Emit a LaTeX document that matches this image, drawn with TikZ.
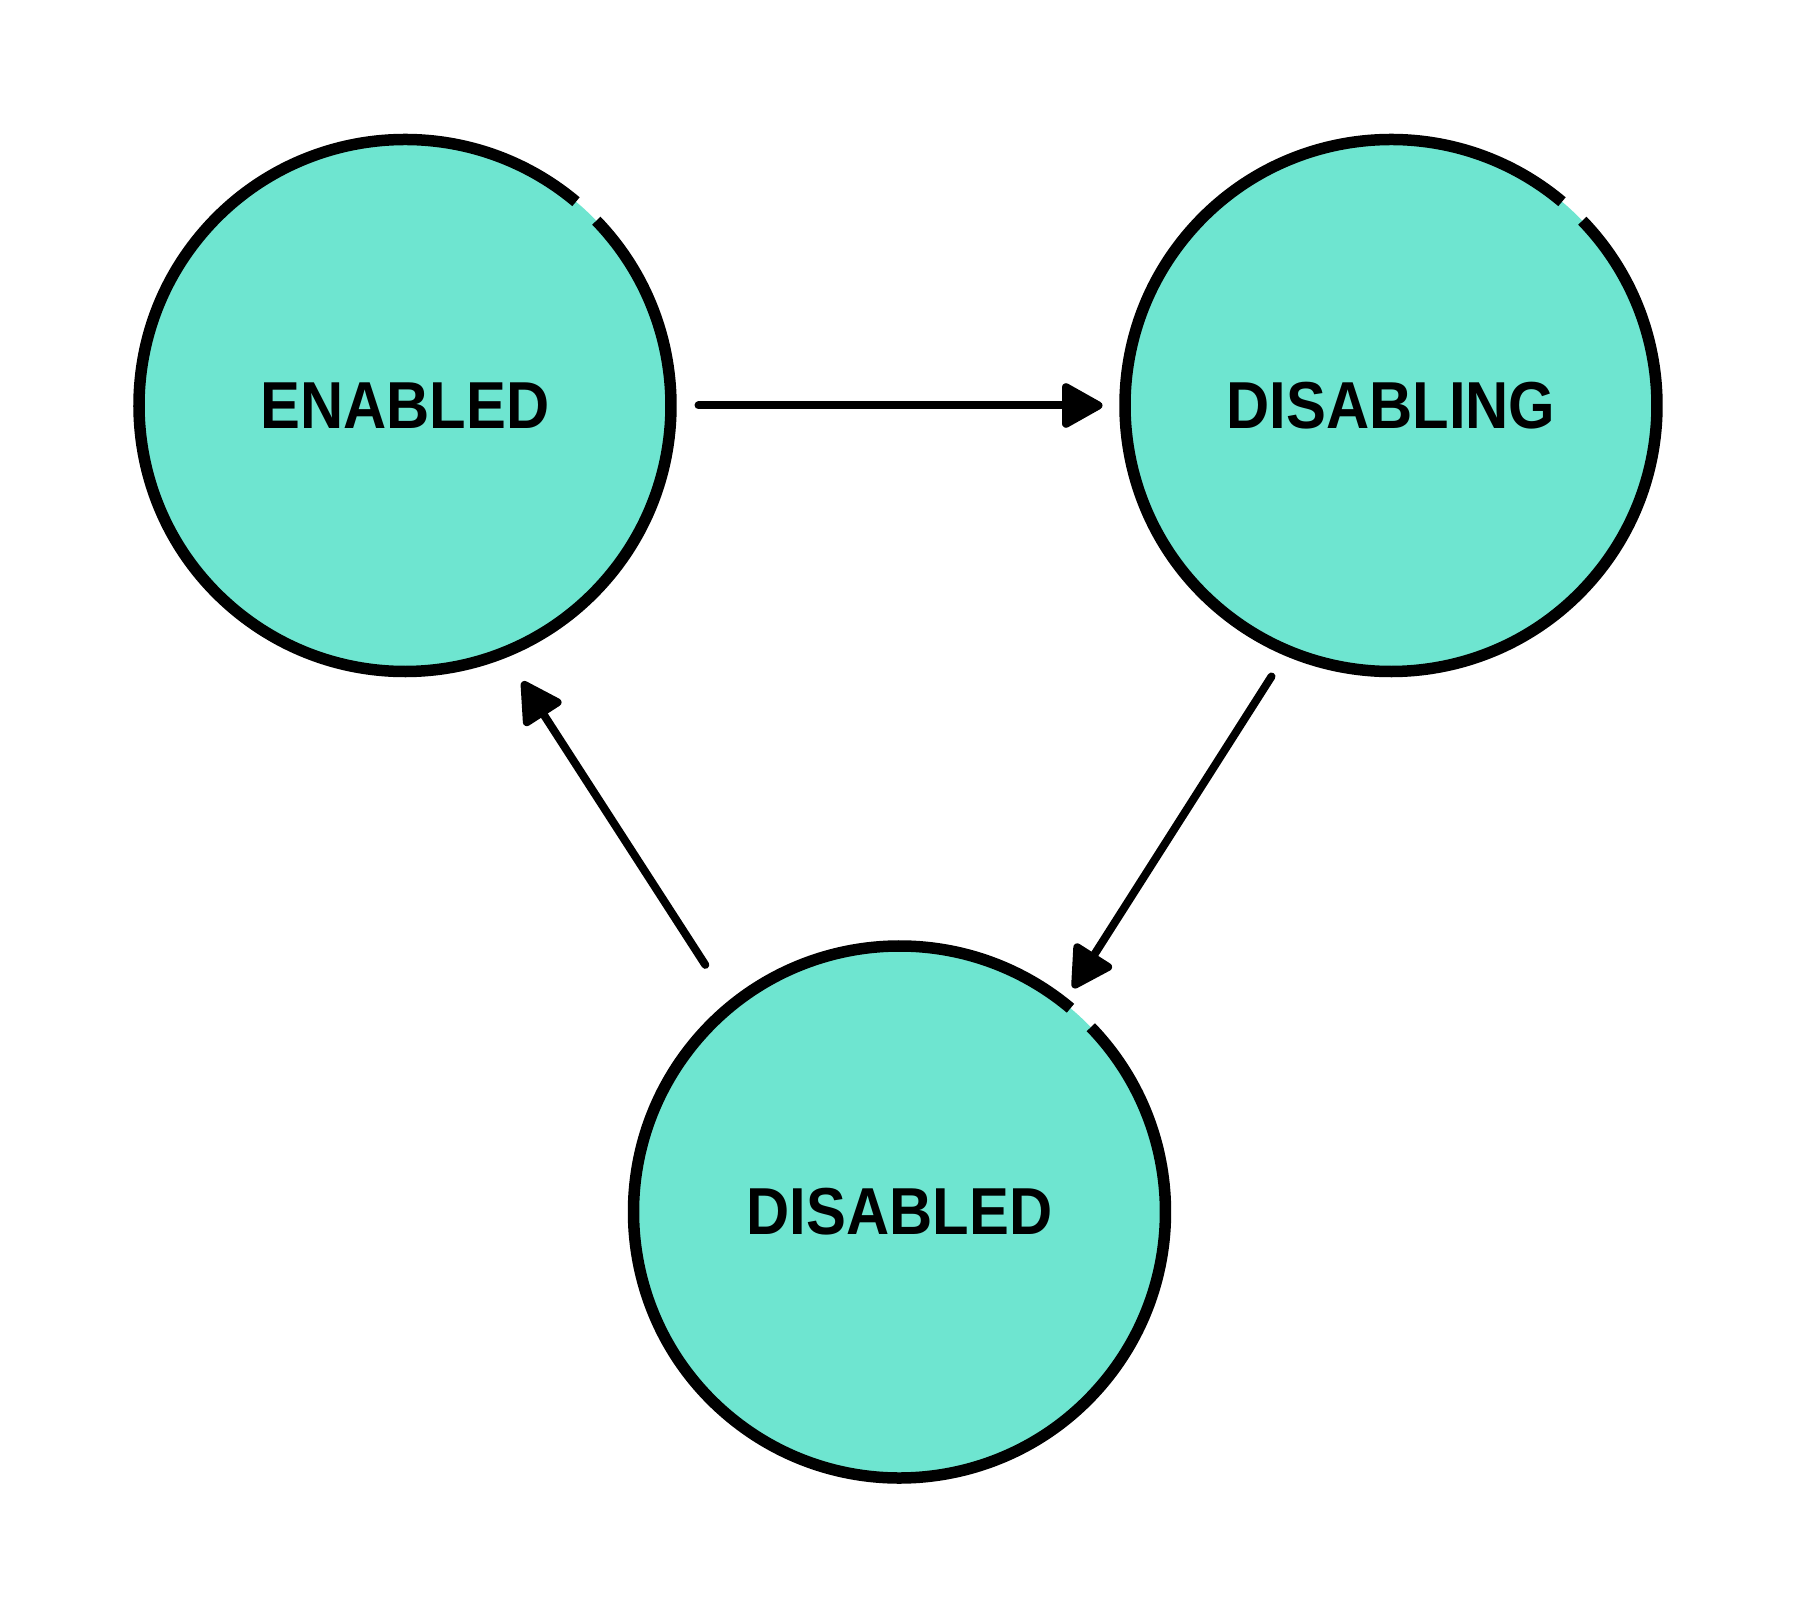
\documentclass[tikz,border=0pt]{standalone}
\usepackage{fontspec}
\setmainfont{Liberation Sans}[FakeStretch=0.9]
\usetikzlibrary{arrows.meta}
\definecolor{stfill}{HTML}{6EE5D0}
\tikzset{
  state/.style={circle, fill=stfill, draw=none, minimum size=5.32cm, inner sep=0pt,
    outer sep=0.055cm, font=\fontsize{18.9}{22}\selectfont\bfseries},
  ring/.style={line width=0.115cm, draw=black},
  trans/.style={line width=0.08cm, line cap=round, draw=black,
    -{Triangle[length=0.45cm,width=0.48cm,round]}}
}
\begin{document}
\begin{tikzpicture}
\useasboundingbox (0,0) rectangle (17.95,-16.14);
\fill[white] (0,0) rectangle (17.95,-16.14);
\node[state] (en) at (4.05,-4.055) {ENABLED};
\node[state] (dis) at (13.91,-4.055) {DISABLING};
\node[state] (disd) at (8.995,-12.12) {DISABLED};
\foreach \n in {en,dis,disd}{
  \draw[ring] (\n.center) ++(50:2.66) arc[start angle=50, end angle=404, radius=2.66];
}
\draw[trans, shorten <=0.22cm, shorten >=0.17cm] (en.east) -- (dis.west);
\draw[trans, shorten <=0.25cm, shorten >=0.12cm] (dis.-113) -- (disd.52.4);
\draw[trans, shorten <=0.43cm, shorten >=0.29cm] (disd.129.5) -- (en.-68.9);
\end{tikzpicture}
\end{document}
